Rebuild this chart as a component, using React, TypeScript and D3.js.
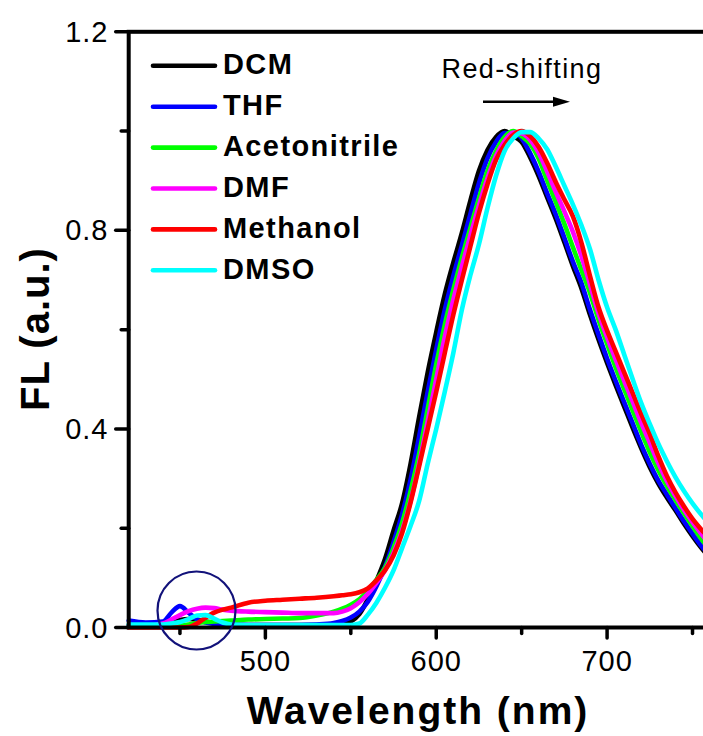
import React from 'react';
import * as d3 from 'd3';

// Emission wavelengths (nm) shared by every solvent trace
const wavelengths = [
  420, 430, 440, 445, 450, 455, 460, 465, 470, 475, 480, 490, 500, 510, 520, 530,
  540, 545, 550, 555, 560, 565, 570, 575, 580, 585, 590, 595, 600, 605, 610, 615,
  620, 625, 630, 635, 640, 645, 650, 655, 660, 665, 670, 675, 680, 685, 690, 695,
  700, 705, 710, 715, 720, 725, 730, 735, 740, 745, 750, 755, 760,
];

// Normalised fluorescence intensity per solvent
const dcm = [
  0.004, 0.004, 0.006, 0.010, 0.015, 0.017, 0.016, 0.012, 0.009, 0.007, 0.006, 0.005, 0.005, 0.005, 0.005, 0.005,
  0.006, 0.007, 0.012, 0.027, 0.057, 0.094, 0.138, 0.195, 0.250, 0.330,
  0.424, 0.514, 0.595, 0.671, 0.735, 0.795, 0.860, 0.920, 0.962, 0.988,
  1.000, 0.990, 0.978, 0.947, 0.909, 0.866, 0.823, 0.776, 0.728, 0.683,
  0.630, 0.580, 0.533, 0.488, 0.445, 0.402, 0.361, 0.323, 0.290, 0.262,
  0.236, 0.209, 0.184, 0.161, 0.141,
];
const thf = [
  0.014, 0.010, 0.012, 0.030, 0.043, 0.030, 0.016, 0.010, 0.007, 0.006, 0.005, 0.005, 0.005, 0.005, 0.005, 0.006,
  0.009, 0.013, 0.020, 0.032, 0.052, 0.083, 0.122, 0.172, 0.228, 0.298,
  0.385, 0.475, 0.560, 0.640, 0.708, 0.770, 0.833, 0.895, 0.945, 0.978,
  0.996, 0.996, 0.985, 0.955, 0.918, 0.874, 0.832, 0.785, 0.737, 0.694,
  0.640, 0.590, 0.542, 0.497, 0.454, 0.411, 0.368, 0.330, 0.296, 0.268,
  0.241, 0.214, 0.189, 0.165, 0.145,
];
const acetonitrile = [
  0.003, 0.003, 0.003, 0.003, 0.004, 0.006, 0.009, 0.011, 0.012, 0.013, 0.014, 0.016, 0.017, 0.018, 0.019, 0.024,
  0.032, 0.038, 0.046, 0.057, 0.074, 0.096, 0.120, 0.160, 0.210, 0.275,
  0.350, 0.440, 0.530, 0.610, 0.680, 0.745, 0.805, 0.865, 0.920, 0.960,
  0.988, 1.000, 0.990, 0.974, 0.944, 0.900, 0.857, 0.813, 0.766, 0.720,
  0.674, 0.620, 0.571, 0.524, 0.480, 0.437, 0.394, 0.353, 0.317, 0.285,
  0.257, 0.230, 0.204, 0.179, 0.157,
];
const dmf = [
  0.003, 0.003, 0.008, 0.016, 0.025, 0.033, 0.038, 0.040, 0.039, 0.036, 0.034, 0.032, 0.031, 0.030, 0.029, 0.029,
  0.029, 0.032, 0.039, 0.051, 0.068, 0.090, 0.115, 0.150, 0.195, 0.255,
  0.330, 0.415, 0.500, 0.585, 0.660, 0.727, 0.790, 0.850, 0.905, 0.950,
  0.980, 0.997, 0.995, 0.982, 0.956, 0.918, 0.877, 0.838, 0.797, 0.748,
  0.691, 0.633, 0.585, 0.540, 0.497, 0.455, 0.412, 0.372, 0.331, 0.295,
  0.265, 0.237, 0.212, 0.189, 0.168,
];
const methanol = [
  0.000, 0.000, 0.000, 0.000, 0.000, 0.001, 0.008, 0.020, 0.030, 0.036, 0.040, 0.050, 0.054, 0.056, 0.058, 0.060,
  0.063, 0.065, 0.067, 0.071, 0.079, 0.095, 0.115, 0.145, 0.190, 0.252,
  0.325, 0.400, 0.475, 0.553, 0.630, 0.700, 0.768, 0.835, 0.893, 0.942,
  0.972, 0.992, 1.000, 0.990, 0.968, 0.935, 0.897, 0.862, 0.828, 0.775,
  0.708, 0.645, 0.598, 0.556, 0.514, 0.472, 0.430, 0.390, 0.345, 0.305,
  0.272, 0.244, 0.219, 0.198, 0.179,
];
const dmso = [
  0.006, 0.006, 0.006, 0.008, 0.011, 0.017, 0.024, 0.025, 0.018, 0.010, 0.006, 0.005, 0.005, 0.005, 0.005, 0.005,
  0.005, 0.005, 0.005, 0.008, 0.026, 0.050, 0.080, 0.115, 0.160, 0.205,
  0.255, 0.330, 0.400, 0.475, 0.553, 0.640, 0.710, 0.772, 0.845, 0.910,
  0.960, 0.985, 0.998, 0.998, 0.985, 0.963, 0.928, 0.890, 0.852, 0.810,
  0.762, 0.700, 0.645, 0.600, 0.550, 0.500, 0.452, 0.410, 0.370, 0.335,
  0.303, 0.275, 0.250, 0.228, 0.208,
];

const seriesNames = ['DCM', 'THF', 'Acetonitrile', 'DMF', 'Methanol', 'DMSO'];
const seriesValues = [dcm, thf, acetonitrile, dmf, methanol, dmso];
const seriesColors = ['#000000', '#0000ff', '#00ff00', '#ff00ff', '#ff0000', '#00ffff'];

const xMajorTicks = [500, 600, 700];
const xMinorTicks = [450, 550, 650, 750];
const yMajorTicks = [0, 0.4, 0.8, 1.2];
const yMinorTicks = [0.2, 0.6, 1.0];

const W = 703;
const H = 736;
const LEFT = 128.7;
const RIGHT = 709.6;
const TOP = 31.8;
const BOTTOM = 627.5;

const FONT = "'Liberation Sans', Arial, Helvetica, sans-serif";

export default function App() {
  const x = d3.scaleLinear().domain([420, 760]).range([LEFT, RIGHT]);
  const y = d3.scaleLinear().domain([0, 1.2]).range([BOTTOM, TOP]);
  const line = d3
    .line<number>()
    .x((_, i) => x(wavelengths[i]))
    .y((d) => y(d))
    .curve(d3.curveMonotoneX);
  const fmt = d3.format('.1f');

  const legendX1 = 153;
  const legendX2 = 215;
  const legendY0 = 65.8;
  const legendStep = 40.9;

  return (
    <svg
      width={W}
      height={H}
      viewBox={`0 0 ${W} ${H}`}
      style={{ position: 'absolute', left: 0, top: 0, background: '#fff' }}
    >
      <rect x={0} y={0} width={W} height={H} fill="#fff" />

      {/* spectra */}
      <g fill="none" strokeWidth={4.6} strokeLinejoin="round" strokeLinecap="round">
        {seriesValues.map((vals, i) => (
          <path key={seriesNames[i]} d={line(vals) || ''} stroke={seriesColors[i]} />
        ))}
      </g>

      {/* frame */}
      <rect
        x={LEFT}
        y={TOP}
        width={RIGHT - LEFT}
        height={BOTTOM - TOP}
        fill="none"
        stroke="#000"
        strokeWidth={4}
      />

      {/* ticks */}
      <g stroke="#000" strokeWidth={3.5} strokeLinecap="round">
        {xMajorTicks.map((t) => (
          <line key={'xM' + t} x1={x(t)} x2={x(t)} y1={BOTTOM} y2={BOTTOM + 10.5} />
        ))}
        {xMinorTicks.map((t) => (
          <line key={'xm' + t} x1={x(t)} x2={x(t)} y1={BOTTOM} y2={BOTTOM + 6} />
        ))}
        {yMajorTicks.map((t) => (
          <line key={'yM' + t} x1={LEFT} x2={LEFT - 13} y1={y(t)} y2={y(t)} />
        ))}
        {yMinorTicks.map((t) => (
          <line key={'ym' + t} x1={LEFT} x2={LEFT - 7.5} y1={y(t)} y2={y(t)} />
        ))}
      </g>

      {/* tick labels */}
      <g fontFamily={FONT} fontSize={29} fill="#000" letterSpacing={1}>
        {xMajorTicks.map((t) => (
          <text key={'xl' + t} x={x(t)} y={671} textAnchor="middle">
            {t}
          </text>
        ))}
        {yMajorTicks.map((t) => (
          <text key={'yl' + t} x={108.5} y={y(t) + 10} textAnchor="end">
            {fmt(t)}
          </text>
        ))}
      </g>

      {/* axis titles */}
      <text
        x={418}
        y={724}
        textAnchor="middle"
        fontFamily={FONT}
        fontWeight="bold"
        fontSize={39}
        letterSpacing={2}
      >
        Wavelength (nm)
      </text>
      <text
        transform={`translate(48.5, 329) rotate(-90)`}
        textAnchor="middle"
        fontFamily={FONT}
        fontWeight="bold"
        fontSize={40}
        letterSpacing={1}
      >
        FL (a.u.)
      </text>

      {/* legend */}
      {seriesNames.map((name, i) => {
        const ly = legendY0 + i * legendStep;
        return (
          <g key={'lg' + name}>
            <line
              x1={legendX1}
              x2={legendX2}
              y1={ly}
              y2={ly}
              stroke={seriesColors[i]}
              strokeWidth={4.6}
              strokeLinecap="round"
            />
            <text
              x={223}
              y={ly + 8.2}
              fontFamily={FONT}
              fontWeight="bold"
              fontSize={29}
              letterSpacing={1.4}
            >
              {name}
            </text>
          </g>
        );
      })}

      {/* red-shift annotation */}
      <text x={441.5} y={78.3} fontFamily={FONT} fontSize={27} letterSpacing={1.4}>
        Red-shifting
      </text>
      <line x1={483} x2={556} y1={101.7} y2={101.7} stroke="#000" strokeWidth={2.6} />
      <path d="M553,96.7 L570,101.7 L553,106.7 Z" fill="#000" />

      {/* highlight around the short-wavelength features */}
      <circle cx={196.5} cy={610.5} r={39} fill="none" stroke="#12127a" strokeWidth={2.2} />
    </svg>
  );
}
